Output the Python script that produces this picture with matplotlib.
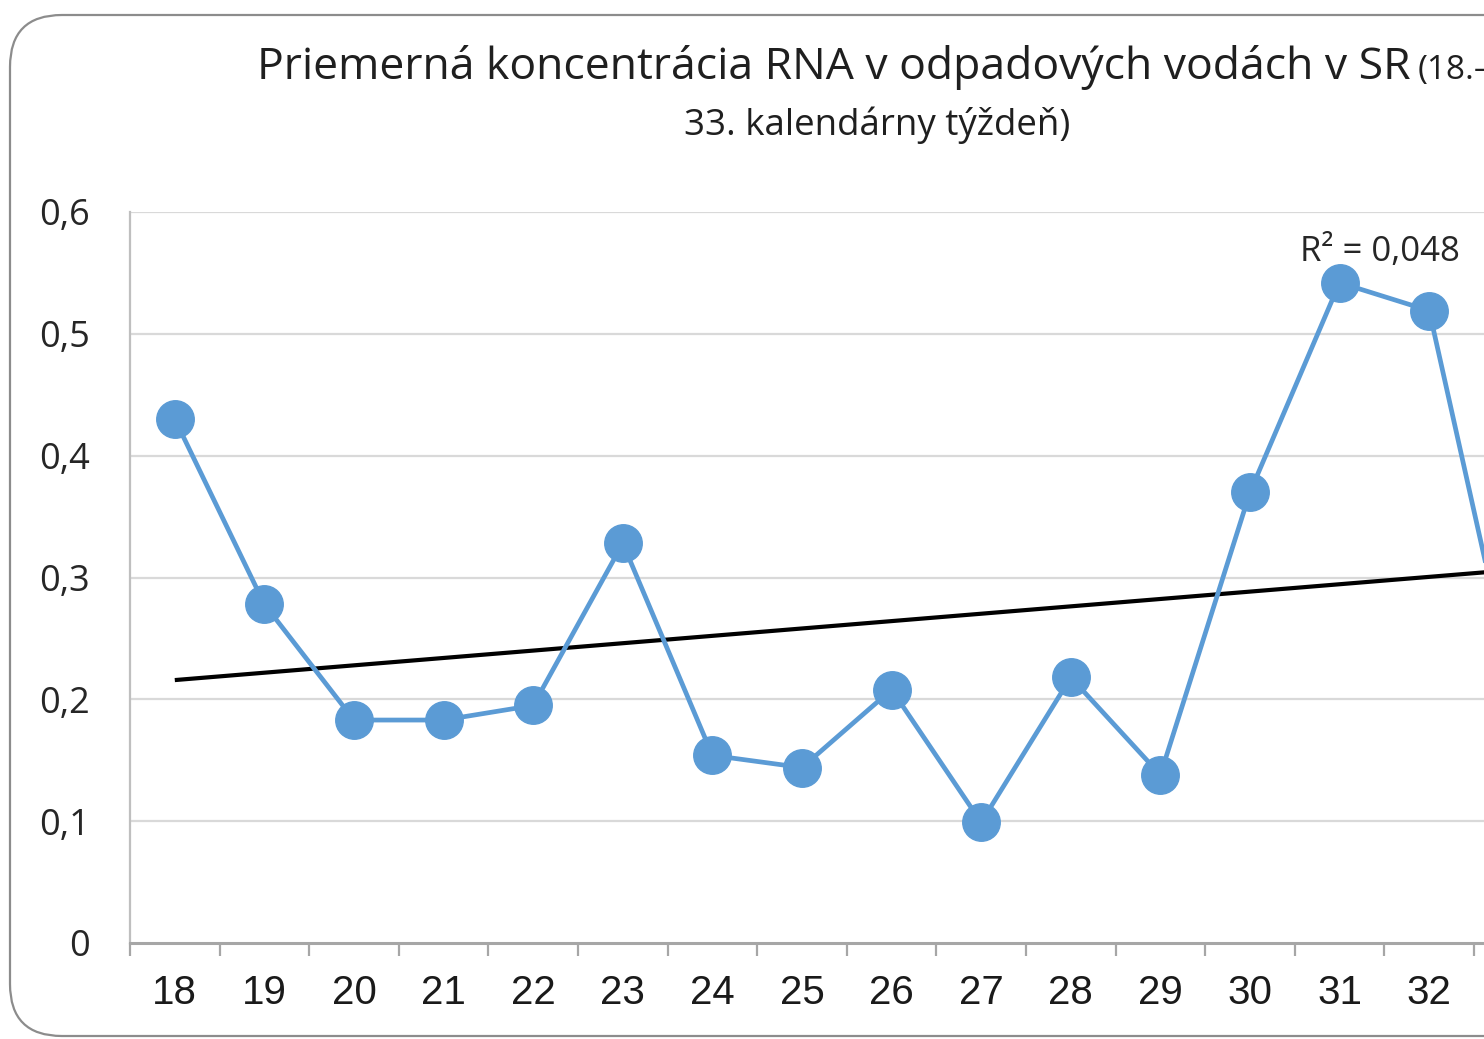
import numpy as np
import matplotlib
matplotlib.use("Agg")
import matplotlib.pyplot as plt
from matplotlib.patches import FancyBboxPatch
from matplotlib.ticker import FixedLocator, FuncFormatter

weeks = [18, 19, 20, 21, 22, 23, 24, 25, 26, 27, 28, 29, 30, 31, 32, 33]
rna = [0.430, 0.278, 0.183, 0.183, 0.195, 0.328, 0.154, 0.144, 0.208, 0.099,
       0.218, 0.138, 0.370, 0.542, 0.519, 0.190]
yticks = [0, 0.1, 0.2, 0.3, 0.4, 0.5, 0.6]
title_main = "Priemerná koncentrácia RNA v odpadových vodách v SR"
title_small = "(18.–"
title_line2 = "33. kalendárny týždeň)"
r2_label = "R² = 0,048"

W, H = 1484, 1039
fig = plt.figure(figsize=(W / 100, H / 100), dpi=100)
fig.patch.set_facecolor("white")

def fx(px):
    return px / W

def fy(py):
    return 1 - py / H

# rounded chart frame (extends past the right edge)
frame = FancyBboxPatch((fx(10), fy(1036)), fx(1700) - fx(10), fy(15) - fy(1036),
                       boxstyle="round,pad=0,rounding_size=0.035",
                       transform=fig.transFigure, facecolor="white",
                       edgecolor="#8c8c8c", linewidth=1.6, zorder=-10,
                       mutation_aspect=W / H)
fig.patches.append(frame)

ax_left, ax_right = 130, 130 + 16 * 89.6
ax_top, ax_bot = 212, 943
ax = fig.add_axes([fx(ax_left), fy(ax_bot), fx(ax_right) - fx(ax_left),
                   (ax_bot - ax_top) / H])
ax.set_facecolor("none")
ax.set_zorder(5)

x = np.array(weeks, dtype=float)
y = np.array(rna)
ax.set_xlim(weeks[0] - 0.5, weeks[-1] + 0.5)
ax.set_ylim(0, 0.6)

# grid
for v in yticks[1:]:
    ax.axhline(v, color="#d9d9d9", linewidth=1.6, zorder=1)

# trend line
coef = np.polyfit(x, y, 1)
ax.plot([x[0], x[-1]], np.polyval(coef, [x[0], x[-1]]), color="black",
        linewidth=3.0, zorder=3, solid_capstyle="butt")

ax.plot(x, y, color="#5b9bd5", linewidth=3.4, marker="o", markersize=27,
        markerfacecolor="#5b9bd5", markeredgecolor="#5b9bd5", zorder=4)

# spines
for s in ["top", "right"]:
    ax.spines[s].set_visible(False)
ax.spines["left"].set_color("#bfbfbf")
ax.spines["left"].set_linewidth(1.6)
ax.spines["bottom"].set_color("#a6a6a6")
ax.spines["bottom"].set_linewidth(2.2)

# x ticks: marks at boundaries, labels at centers
ax.xaxis.set_major_locator(FixedLocator([w - 0.5 for w in weeks] + [weeks[-1] + 0.5]))
ax.xaxis.set_major_formatter(FuncFormatter(lambda v, p: ""))
ax.xaxis.set_minor_locator(FixedLocator(weeks))
ax.xaxis.set_minor_formatter(FuncFormatter(lambda v, p: f"{int(round(v))}"))
ax.tick_params(axis="x", which="major", direction="out", length=9, width=1.6,
               color="#a6a6a6")
ax.tick_params(axis="x", which="minor", length=0, pad=22, labelsize=29,
               labelcolor="#1a1a1a")
for lab in ax.get_xticklabels(minor=True):
    lab.set_fontfamily("Liberation Sans")

ax.set_yticks(yticks)
ax.set_yticklabels([("0" if v == 0 else f"{v:.1f}".replace(".", ",")) for v in yticks])
ax.tick_params(axis="y", length=0, pad=29, labelsize=26, labelcolor="#262626")
for lab in ax.get_yticklabels():
    lab.set_fontfamily("Open Sans")

ax.text(31.45, 0.567, r2_label, ha="center", va="center", fontsize=25,
        family="Open Sans", color="#262626", zorder=5)

# title
t1 = fig.text(fx(257), fy(68), title_main, ha="left", va="center",
              fontsize=32, family="Open Sans", color="#1f1f1f")
fig.text(fx(1418), fy(70), title_small, ha="left", va="center",
         fontsize=24, family="Open Sans", color="#1f1f1f")
fig.text(fx(877), fy(125), title_line2, ha="center", va="center",
         fontsize=26.5, family="Open Sans", color="#1f1f1f")

fig.savefig("out.png", dpi=100)
